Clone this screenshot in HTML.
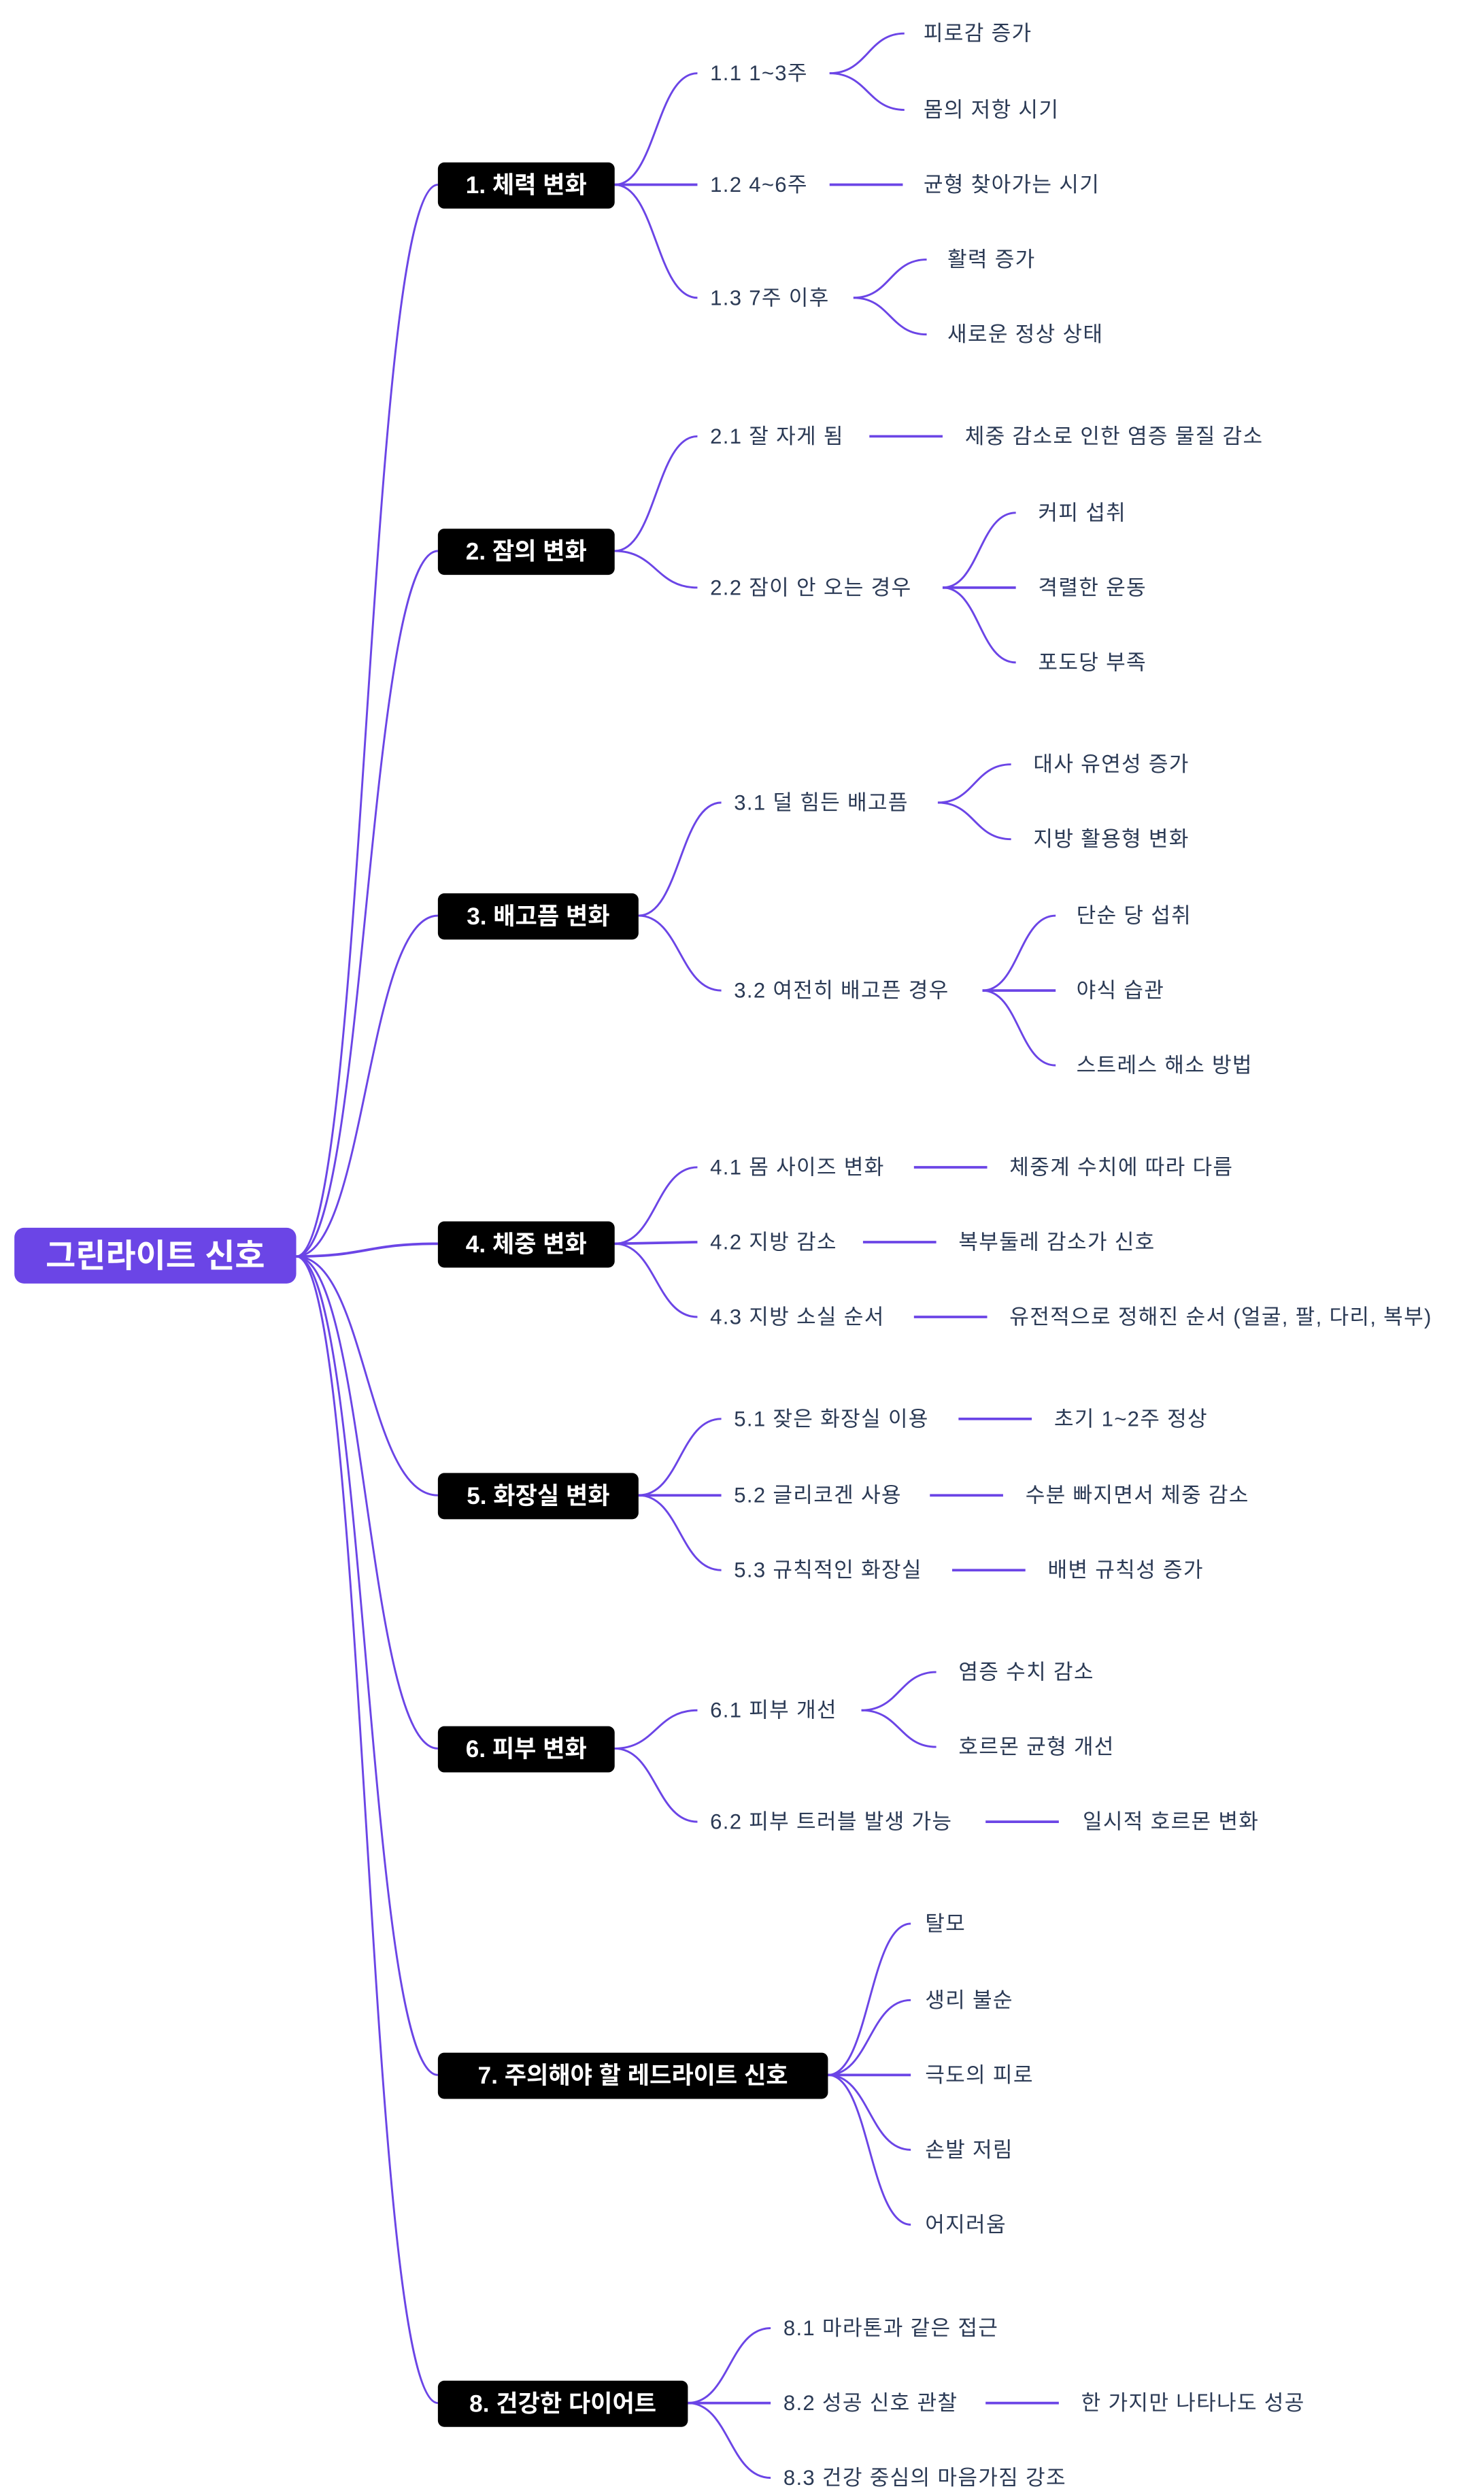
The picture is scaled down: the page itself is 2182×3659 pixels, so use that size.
<!DOCTYPE html>
<html><head><meta charset="utf-8"><style>
html,body{margin:0;padding:0;background:#fff;}
svg{display:block;}
text{font-family:"Liberation Sans","Noto Sans CJK KR",sans-serif;}
.t{font-size:13.3px;letter-spacing:0.55px;fill:#2b3a55;dominant-baseline:central;}
.n{font-size:15px;font-weight:bold;fill:#fff;dominant-baseline:central;text-anchor:middle;}
.r{font-size:20.5px;font-weight:bold;fill:#fff;dominant-baseline:central;text-anchor:middle;}
path{fill:none;stroke:#6b45e6;stroke-width:1.25;}
path.s{stroke-width:1.6;}
</style></head><body>
<svg width="2182" height="3659" viewBox="0 0 932 1563" xmlns="http://www.w3.org/2000/svg">
<path d="M186 789 C230 789 230 116 275 116"/>
<path d="M186 789 C230 789 230 346 275 346"/>
<path d="M186 789 C230 789 230 575 275 575"/>
<path class="s" d="M186 789 C230 789 230 781 275 781"/>
<path d="M186 789 C230 789 230 939 275 939"/>
<path d="M186 789 C230 789 230 1098 275 1098"/>
<path d="M186 789 C230 789 230 1303 275 1303"/>
<path d="M186 789 C230 789 230 1509 275 1509"/>

<path d="M386 116 C412 116 412 46 438 46"/>
<path class="s" d="M386 116 L438 116"/>
<path d="M386 116 C412 116 412 187 438 187"/>
<path d="M521 46 C545 46 545 21 568 21"/>
<path d="M521 46 C545 46 545 69 568 69"/>
<path class="s" d="M521 116 L567 116"/>
<path d="M536 187 C559 187 559 163 582 163"/>
<path d="M536 187 C559 187 559 210 582 210"/>
<path d="M386 346 C412 346 412 274 438 274"/>
<path d="M386 346 C412 346 412 369 438 369"/>
<path class="s" d="M546 274 L592 274"/>
<path d="M592 369 C615 369 615 322 638 322"/>
<path class="s" d="M592 369 L638 369"/>
<path d="M592 369 C615 369 615 416 638 416"/>
<path d="M401 575 C427 575 427 504 453 504"/>
<path d="M401 575 C427 575 427 622 453 622"/>
<path d="M589 504 C612 504 612 480 635 480"/>
<path d="M589 504 C612 504 612 527 635 527"/>
<path d="M617 622 C640 622 640 575 663 575"/>
<path class="s" d="M617 622 L663 622"/>
<path d="M617 622 C640 622 640 669 663 669"/>
<path d="M386 781 C412 781 412 733 438 733"/>
<path class="s" d="M386 781 L438 780"/>
<path d="M386 781 C412 781 412 827 438 827"/>
<path class="s" d="M574 733 L620 733"/>
<path class="s" d="M542 780 L588 780"/>
<path class="s" d="M574 827 L620 827"/>
<path d="M401 939 C427 939 427 891 453 891"/>
<path class="s" d="M401 939 L453 939"/>
<path d="M401 939 C427 939 427 986 453 986"/>
<path class="s" d="M602 891 L648 891"/>
<path class="s" d="M584 939 L630 939"/>
<path class="s" d="M598 986 L644 986"/>
<path d="M386 1098 C412 1098 412 1074 438 1074"/>
<path d="M386 1098 C412 1098 412 1144 438 1144"/>
<path d="M541 1074 C565 1074 565 1050 588 1050"/>
<path d="M541 1074 C565 1074 565 1097 588 1097"/>
<path class="s" d="M619 1144 L665 1144"/>
<path d="M520 1303 C546 1303 546 1208 572 1208"/>
<path d="M520 1303 C546 1303 546 1256 572 1256"/>
<path class="s" d="M520 1303 L572 1303"/>
<path d="M520 1303 C546 1303 546 1350 572 1350"/>
<path d="M520 1303 C546 1303 546 1397 572 1397"/>
<path d="M432 1509 C458 1509 458 1462 484 1462"/>
<path class="s" d="M432 1509 L484 1509"/>
<path d="M432 1509 C458 1509 458 1556 484 1556"/>
<path class="s" d="M619 1509 L665 1509"/>

<rect x="9" y="771" width="177" height="35" rx="6" fill="#6b45e6"/>
<text class="r" x="97.5" y="789">그린라이트 신호</text>

<rect x="275" y="102" width="111" height="29" rx="4" fill="#000"/><text class="n" x="330.5" y="116.5">1. 체력 변화</text>
<rect x="275" y="332" width="111" height="29" rx="4" fill="#000"/><text class="n" x="330.5" y="346.5">2. 잠의 변화</text>
<rect x="275" y="561" width="126" height="29" rx="4" fill="#000"/><text class="n" x="338" y="575.5">3. 배고픔 변화</text>
<rect x="275" y="767" width="111" height="29" rx="4" fill="#000"/><text class="n" x="330.5" y="781.5">4. 체중 변화</text>
<rect x="275" y="925" width="126" height="29" rx="4" fill="#000"/><text class="n" x="338" y="939.5">5. 화장실 변화</text>
<rect x="275" y="1084" width="111" height="29" rx="4" fill="#000"/><text class="n" x="330.5" y="1098.5">6. 피부 변화</text>
<rect x="275" y="1289" width="245" height="29" rx="4" fill="#000"/><text class="n" x="397.5" y="1303.5">7. 주의해야 할 레드라이트 신호</text>
<rect x="275" y="1495" width="157" height="29" rx="4" fill="#000"/><text class="n" x="353.5" y="1509.5">8. 건강한 다이어트</text>

<text class="t" x="446" y="46">1.1 1~3주</text>
<text class="t" x="580" y="21">피로감 증가</text>
<text class="t" x="580" y="69">몸의 저항 시기</text>
<text class="t" x="446" y="116">1.2 4~6주</text>
<text class="t" x="580" y="116">균형 찾아가는 시기</text>
<text class="t" x="446" y="187">1.3 7주 이후</text>
<text class="t" x="595" y="163">활력 증가</text>
<text class="t" x="595" y="210">새로운 정상 상태</text>

<text class="t" x="446" y="274">2.1 잘 자게 됨</text>
<text class="t" x="606" y="274">체중 감소로 인한 염증 물질 감소</text>
<text class="t" x="446" y="369">2.2 잠이 안 오는 경우</text>
<text class="t" x="652" y="322">커피 섭취</text>
<text class="t" x="652" y="369">격렬한 운동</text>
<text class="t" x="652" y="416">포도당 부족</text>

<text class="t" x="461" y="504">3.1 덜 힘든 배고픔</text>
<text class="t" x="649" y="480">대사 유연성 증가</text>
<text class="t" x="649" y="527">지방 활용형 변화</text>
<text class="t" x="461" y="622">3.2 여전히 배고픈 경우</text>
<text class="t" x="676" y="575">단순 당 섭취</text>
<text class="t" x="676" y="622">야식 습관</text>
<text class="t" x="676" y="669">스트레스 해소 방법</text>

<text class="t" x="446" y="733">4.1 몸 사이즈 변화</text>
<text class="t" x="634" y="733">체중계 수치에 따라 다름</text>
<text class="t" x="446" y="780">4.2 지방 감소</text>
<text class="t" x="602" y="780">복부둘레 감소가 신호</text>
<text class="t" x="446" y="827">4.3 지방 소실 순서</text>
<text class="t" x="634" y="827">유전적으로 정해진 순서 (얼굴, 팔, 다리, 복부)</text>

<text class="t" x="461" y="891">5.1 잦은 화장실 이용</text>
<text class="t" x="662" y="891">초기 1~2주 정상</text>
<text class="t" x="461" y="939">5.2 글리코겐 사용</text>
<text class="t" x="644" y="939">수분 빠지면서 체중 감소</text>
<text class="t" x="461" y="986">5.3 규칙적인 화장실</text>
<text class="t" x="658" y="986">배변 규칙성 증가</text>

<text class="t" x="446" y="1074">6.1 피부 개선</text>
<text class="t" x="602" y="1050">염증 수치 감소</text>
<text class="t" x="602" y="1097">호르몬 균형 개선</text>
<text class="t" x="446" y="1144">6.2 피부 트러블 발생 가능</text>
<text class="t" x="680" y="1144">일시적 호르몬 변화</text>

<text class="t" x="581" y="1208">탈모</text>
<text class="t" x="581" y="1256">생리 불순</text>
<text class="t" x="581" y="1303">극도의 피로</text>
<text class="t" x="581" y="1350">손발 저림</text>
<text class="t" x="581" y="1397">어지러움</text>

<text class="t" x="492" y="1462">8.1 마라톤과 같은 접근</text>
<text class="t" x="492" y="1509">8.2 성공 신호 관찰</text>
<text class="t" x="679" y="1509">한 가지만 나타나도 성공</text>
<text class="t" x="492" y="1556">8.3 건강 중심의 마음가짐 강조</text>
</svg>
</body></html>
